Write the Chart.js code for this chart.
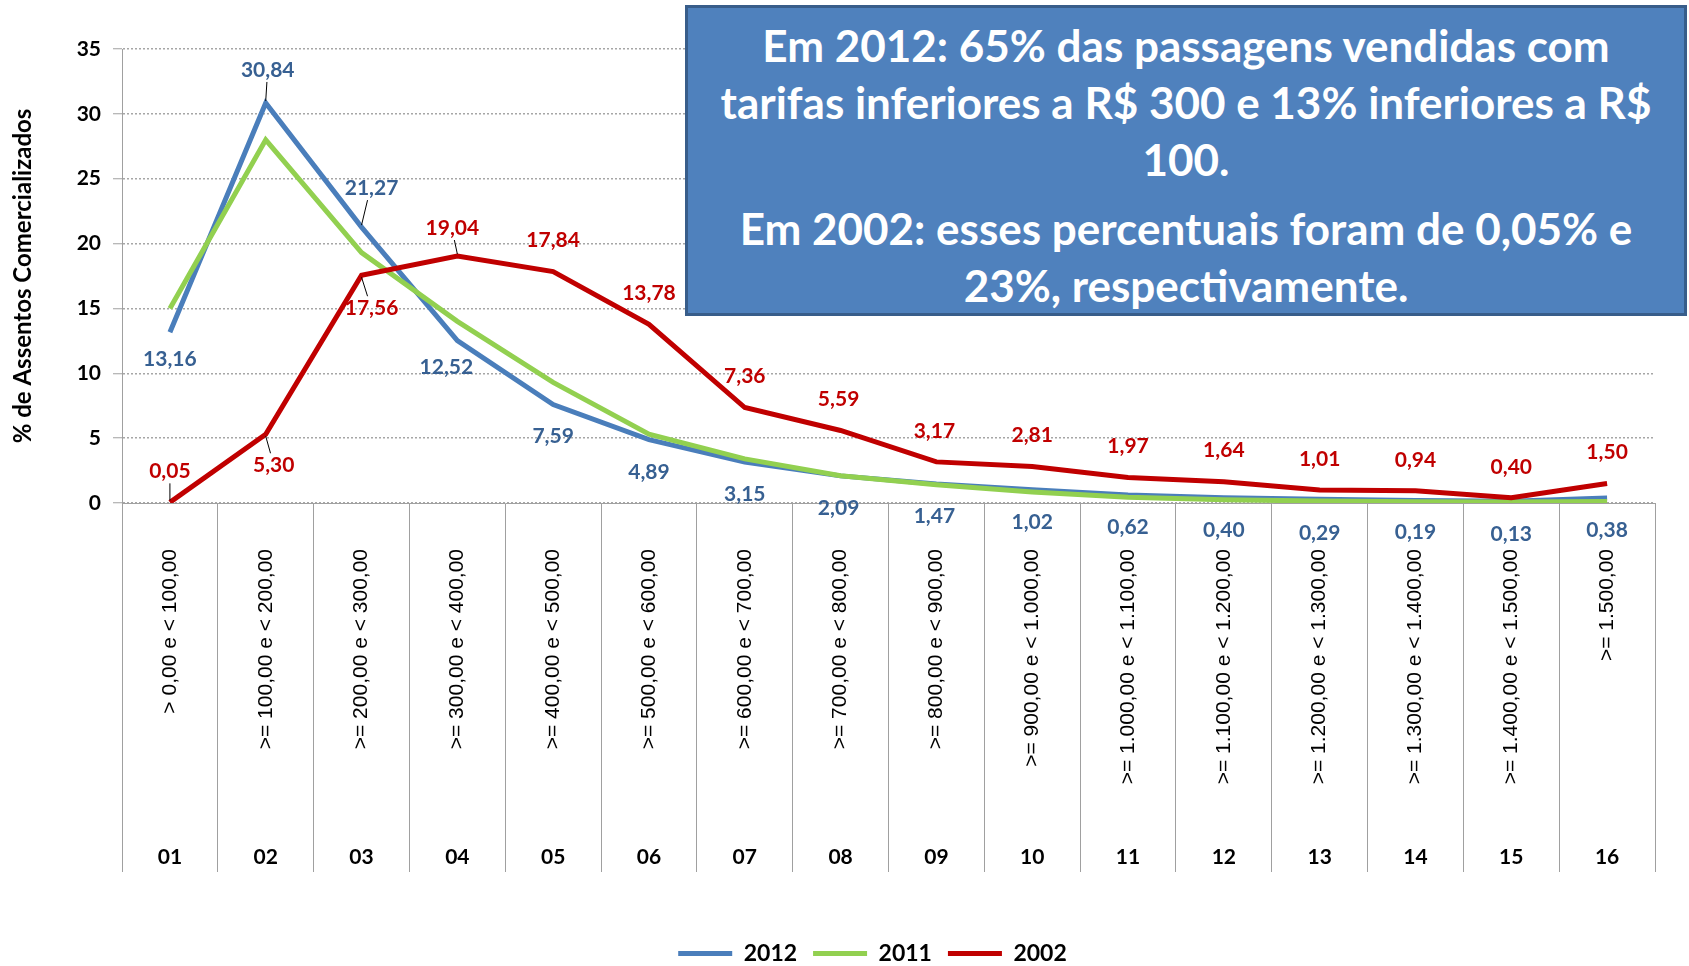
<!DOCTYPE html>
<html>
<head>
<meta charset="utf-8">
<script src="https://cdn.jsdelivr.net/npm/chart.js@4.4.0/dist/chart.umd.min.js"></script>
<style>
  body { margin: 0; background: #fff; }
  #wrap { position: relative; width: 1689px; height: 966px; }
  #note {
    position: absolute; left: 685px; top: 5px; width: 1002px; height: 311px;
    box-sizing: border-box; background: #4F81BD; border: 3px solid #385D8A;
    color: #fff; font-family: Lato, sans-serif; font-weight: bold; font-size: 44px;
    text-align: center; line-height: 57px; padding-top: 9px; z-index: 2;
  }
  #note p { margin: 0; }
  #note p + p { margin-top: 12px; }
</style>
</head>
<body>
<div id="wrap">
  <canvas id="faixasChart" width="1689" height="966"></canvas>
  <div id="note">
    <p>Em 2012: 65% das passagens vendidas com<br>tarifas inferiores a R$ 300 e 13% inferiores a R$<br>100.</p>
    <p>Em 2002: esses percentuais foram de 0,05% e<br>23%, respectivamente.</p>
  </div>
</div>
<script>
const faixas = [
  '> 0,00 e < 100,00', '>= 100,00 e < 200,00', '>= 200,00 e < 300,00', '>= 300,00 e < 400,00',
  '>= 400,00 e < 500,00', '>= 500,00 e < 600,00', '>= 600,00 e < 700,00', '>= 700,00 e < 800,00',
  '>= 800,00 e < 900,00', '>= 900,00 e < 1.000,00', '>= 1.000,00 e < 1.100,00', '>= 1.100,00 e < 1.200,00',
  '>= 1.200,00 e < 1.300,00', '>= 1.300,00 e < 1.400,00', '>= 1.400,00 e < 1.500,00', '>= 1.500,00'
];
const numeros = ['01', '02', '03', '04', '05', '06', '07', '08', '09', '10', '11', '12', '13', '14', '15', '16'];

const serie2012 = [13.16, 30.84, 21.27, 12.52, 7.59, 4.89, 3.15, 2.09, 1.47, 1.02, 0.62, 0.40, 0.29, 0.19, 0.13, 0.38];
const serie2011 = [15.0, 28.0, 19.3, 14.0, 9.3, 5.3, 3.4, 2.1, 1.4, 0.85, 0.45, 0.25, 0.15, 0.1, 0.08, 0.12];
const serie2002 = [0.05, 5.30, 17.56, 19.04, 17.84, 13.78, 7.36, 5.59, 3.17, 2.81, 1.97, 1.64, 1.01, 0.94, 0.40, 1.50];

// label placement (px offsets from the point), kept apart from the values
const dy2012 = [27, -33, -39, 27, 32, 33, 32, 32, 32, 32, 32, 32, 34, 32, 33, 32];
const dx2012 = [0, 2, 10, -11, 0, 0, 0, -2, -2, 0, 0, 0, 0, 0, 0, 0];
const leader2012 = [0, 1, 1, 0, 0, 0, 0, 0, 0, 0, 0, 0, 0, 0, 0, 0];
const dy2002 = [-31, 31, 33, -28, -31, -31, -31, -31, -31, -31, -31, -31, -31, -31, -31, -31];
const dx2002 = [0, 8, 10, -5, 0, 0, 0, -2, -2, 0, 0, 0, 0, 0, 0, 0];
const leader2002 = [1, 1, 1, 1, 0, 0, 0, 0, 0, 0, 0, 0, 0, 0, 0, 0];

const valueLabels = {
  id: 'valueLabels',
  afterDatasetsDraw(chart, args, opts) {
    const ctx = chart.ctx;
    opts.sets.forEach(set => {
      const meta = chart.getDatasetMeta(set.index);
      const values = chart.data.datasets[set.index].data;
      ctx.save();
      ctx.font = 'bold 21px Lato';
      ctx.textAlign = 'center';
      ctx.textBaseline = 'middle';
      meta.data.forEach((pt, i) => {
        const lx = pt.x + set.dx[i];
        const ly = pt.y + set.dy[i];
        if (set.leader[i]) {
          const s = Math.sign(set.dy[i]);
          ctx.strokeStyle = '#000';
          ctx.lineWidth = 1;
          ctx.beginPath();
          ctx.moveTo(pt.x, pt.y + s * 2);
          ctx.lineTo(lx - set.dx[i] * 0.4, ly - s * 12);
          ctx.stroke();
        }
        ctx.fillStyle = set.color;
        ctx.fillText(values[i].toFixed(2).replace('.', ','), lx, ly);
      });
      ctx.restore();
    });
  }
};

// nudge the legend a little left, as in the original slide
const legendShift = {
  id: 'legendShift',
  afterLayout(chart) {
    chart.legend.left -= 16;
    chart.legend.right -= 16;
  }
};

new Chart(document.getElementById('faixasChart'), {
  type: 'line',
  data: {
    labels: faixas,
    datasets: [
      {
        label: '2012',
        data: serie2012,
        borderColor: '#4A7EBB',
        borderWidth: 5,
        pointRadius: 0,
        tension: 0,
        order: 3,
      },
      {
        label: '2011',
        data: serie2011,
        borderColor: '#92D050',
        borderWidth: 5,
        pointRadius: 0,
        tension: 0,
        order: 2,
      },
      {
        label: '2002',
        data: serie2002,
        borderColor: '#C00000',
        borderWidth: 5,
        pointRadius: 0,
        tension: 0,
        order: 1,
      },
    ],
  },
  plugins: [valueLabels, legendShift],
  options: {
    responsive: false,
    animation: false,
    layout: { padding: { top: 49, right: 34, left: 0, bottom: -9 } },
    plugins: {
      tooltip: { enabled: false },
      legend: {
        position: 'bottom',
        fullSize: false,
        labels: {
          usePointStyle: true,
          pointStyle: 'line',
          pointStyleWidth: 54,
          padding: 16,
          color: '#000',
          font: { family: 'Lato', weight: 'bold', size: 23 },
          sort: (a, b) => a.datasetIndex - b.datasetIndex,
        },
      },
      valueLabels: {
        sets: [
          { index: 0, color: '#376092', dx: dx2012, dy: dy2012, leader: leader2012 },
          { index: 2, color: '#C00000', dx: dx2002, dy: dy2002, leader: leader2002 },
        ],
      },
    },
    scales: {
      x: {
        position: 'bottom',
        weight: 0,
        offset: true,
        grid: {
          drawOnChartArea: false,
          drawTicks: true,
          tickLength: 369,
          color: '#A0A0A0',
          offset: true,
        },
        border: { display: true, color: '#A0A0A0', width: 1 },
        ticks: {
          autoSkip: false,
          minRotation: 90,
          maxRotation: 90,
          padding: -323,
          color: '#000',
          font: { family: 'Liberation Sans', size: 21 },
        },
        afterFit: (scale) => { scale.height = 335; },
      },
      x2: {
        type: 'category',
        position: 'bottom',
        weight: 1,
        offset: true,
        labels: numeros,
        grid: { display: false, drawTicks: false },
        border: { display: false },
        ticks: {
          padding: 7,
          color: '#000',
          font: { family: 'Lato', weight: 'bold', size: 21 },
        },
        afterFit: (scale) => { scale.height = 88; },
      },
      y: {
        min: 0,
        max: 35,
        ticks: {
          stepSize: 5,
          padding: 12,
          color: '#000',
          font: { family: 'Lato', weight: 'bold', size: 21 },
        },
        grid: {
          color: '#A6A6A6',
          lineWidth: 1.5,
          tickLength: 9,
          tickColor: '#A0A0A0',
          tickWidth: 1,
          tickBorderDash: [],
        },
        border: { display: true, color: '#A0A0A0', width: 1, dash: [2, 2] },
        title: {
          display: true,
          text: '% de Assentos Comercializados',
          color: '#000',
          font: { family: 'Lato', weight: 'bold', size: 24 },
          padding: { top: 9, bottom: 0 },
        },
        afterFit: (scale) => { scale.width = 122; },
      },
    },
  },
});
</script>
</body>
</html>
